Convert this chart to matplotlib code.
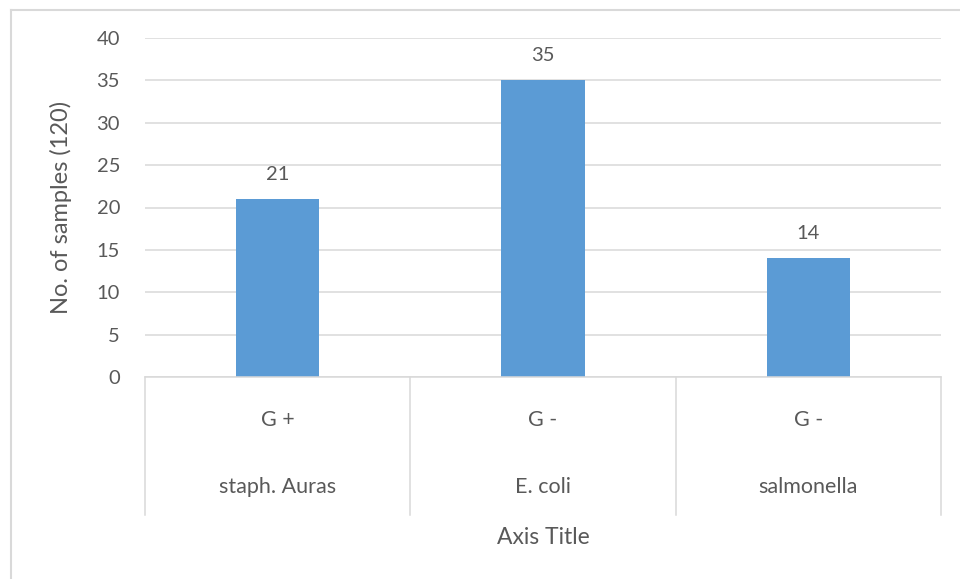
import matplotlib.pyplot as plt
from matplotlib.lines import Line2D
from matplotlib import transforms

bacteria = ["staph. Auras", "E. coli", "salmonella"]
gram = ["G +", "G -", "G -"]
counts = [21, 35, 14]

grey_txt = "#595959"
grid_col = "#D9D9D9"
bar_col = "#5B9BD5"

plt.rcParams["font.family"] = ["Lato", "DejaVu Sans"]

fig = plt.figure(figsize=(9.6, 5.79), dpi=100)
ax = fig.add_axes([145 / 960, 1 - 377 / 579, 796 / 960, 339 / 579])

x = list(range(len(bacteria)))
ax.bar(x, counts, width=0.315, color=bar_col, zorder=3)

ax.set_xlim(-0.5, len(bacteria) - 0.5)
ax.set_ylim(0, 40)
ax.set_yticks(range(0, 41, 5))
ax.tick_params(axis="y", length=0, pad=18, labelsize=14.5, labelcolor=grey_txt)
ax.set_xticks([])
ax.grid(axis="y", color=grid_col, linewidth=1.1, zorder=0)
for s in ax.spines.values():
    s.set_visible(False)

# value labels above bars
for xi, v in zip(x, counts):
    ax.annotate(str(v), (xi, v), xytext=(0, 18), textcoords="offset points",
                ha="center", va="center", fontsize=14.5, color=grey_txt)

# two-level category axis drawn as boxes under the plot
tr = transforms.blended_transform_factory(ax.transData, ax.transAxes)
ax.plot([-0.5, len(bacteria) - 0.5], [0, 0], transform=tr, color=grid_col,
        lw=1.1, clip_on=False, zorder=4)
for b in [i - 0.5 for i in range(len(bacteria) + 1)]:
    ax.plot([b, b], [0, -0.407], transform=tr, color=grid_col, lw=1.1, clip_on=False)
for xi, g, name in zip(x, gram, bacteria):
    ax.text(xi, -0.127, g, transform=tr, ha="center", va="center",
            fontsize=15.5, color=grey_txt)
    ax.text(xi, -0.324, name, transform=tr, ha="center", va="center",
            fontsize=15.5, color=grey_txt)

ax.text(0.5, -0.472, "Axis Title", transform=ax.transAxes, ha="center",
        va="center", fontsize=16.5, color=grey_txt)
ax.set_ylabel("No. of samples (120)", fontsize=17, color=grey_txt)
ax.yaxis.set_label_coords(-0.092, 0.5)

# chart area border (only top and left edges visible)
fig.add_artist(Line2D([10.5 / 960, 1], [1 - 9.5 / 579] * 2, color=grid_col,
                      lw=1.5, transform=fig.transFigure))
fig.add_artist(Line2D([10.5 / 960] * 2, [0, 1 - 9.5 / 579], color=grid_col,
                      lw=1.5, transform=fig.transFigure))

fig.savefig("out.png", dpi=100)
